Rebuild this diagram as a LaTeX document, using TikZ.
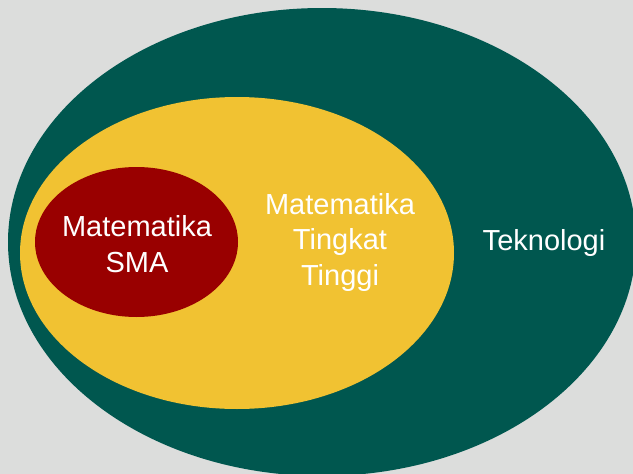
\documentclass[tikz,border=0pt]{standalone}
\usepackage{fontspec}
\setmainfont{Liberation Sans}
\usepackage{xcolor}
\usepackage{tikz}

\definecolor{tekgreen}{HTML}{00574F}
\definecolor{mtyellow}{HTML}{F1C232}
\definecolor{smared}{HTML}{990000}
\definecolor{bggray}{HTML}{DCDDDC}

\begin{document}
\begin{tikzpicture}[x=1pt, y=-1pt, every node/.style={font=\fontsize{29}{35.5}\selectfont, text=white, align=center, inner sep=0pt}]
  % page and background
  \clip (0,0) rectangle (633,474);
  \fill[bggray] (0,0) rectangle (633,474);
  % nested sets
  \fill[tekgreen] (322,242) ellipse [x radius=314, y radius=234];
  \fill[mtyellow] (237,253) ellipse [x radius=217, y radius=156];
  \fill[smared] (136.5,242) ellipse [x radius=101.5, y radius=75];
  % labels
  \node (sma) at (137,244) {Matematika\\SMA};
  \node (tinggi) at (340,242) {Matematika\\Tingkat\\Tinggi};
  \node[anchor=base] (tekno) at (544,250) {Teknologi};
\end{tikzpicture}
\end{document}
